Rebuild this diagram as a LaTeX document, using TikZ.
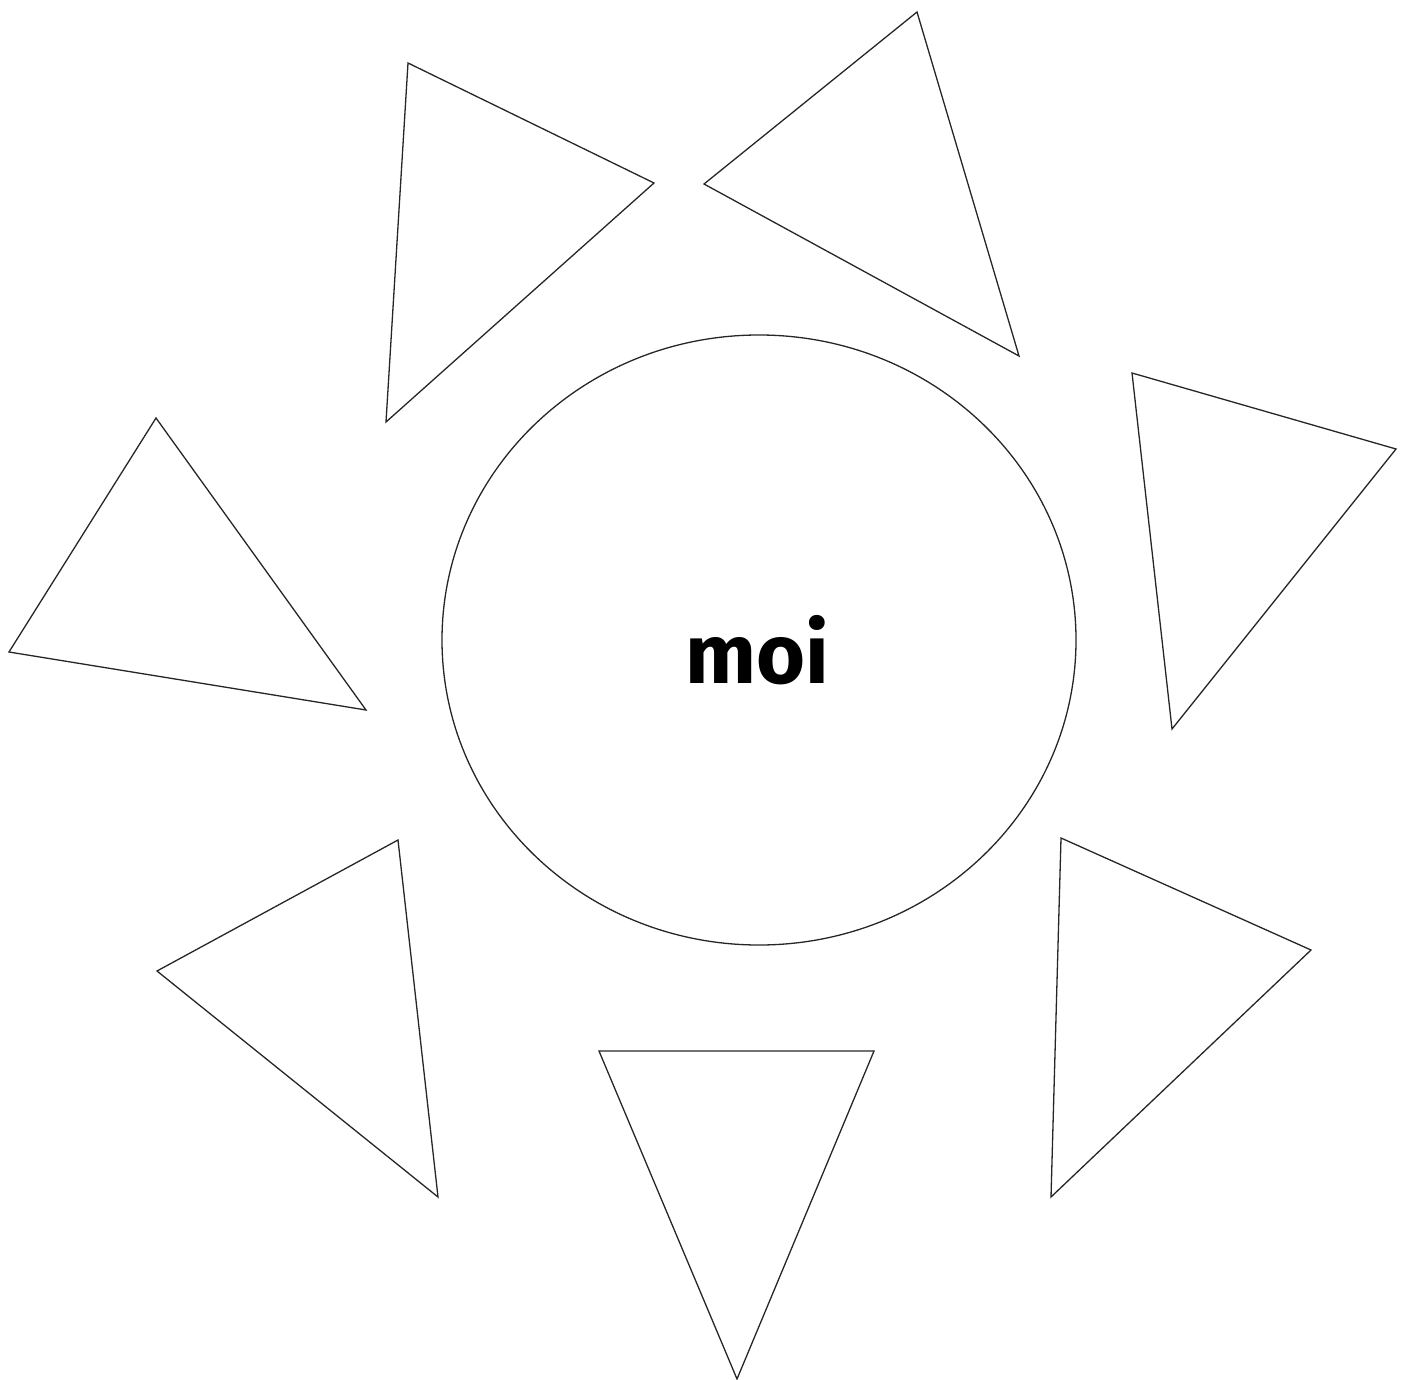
\documentclass[tikz,border=0pt]{standalone}
\usepackage{fontspec}
\newfontfamily\moifont{Fira Sans}
\begin{document}
\begin{tikzpicture}[x=0.5pt,y=-0.5pt,
  ray/.style={draw=black!85,line width=0.65pt,line join=miter},
  sun/.style={draw=black!85,line width=0.65pt}]
\useasboundingbox (0,0) rectangle (1407,1380);
\draw[sun] (759,640) ellipse [x radius=317, y radius=305];
\node (moi) at (757,650) {\moifont\bfseries\fontsize{42}{42}\selectfont moi};
\draw[ray] (408,63) -- (654,183) -- (386,422) -- cycle;
\draw[ray] (917,12) -- (704,184) -- (1019,356) -- cycle;
\draw[ray] (1132,373) -- (1396,449) -- (1172,729) -- cycle;
\draw[ray] (156,418) -- (9,652) -- (366,710) -- cycle;
\draw[ray] (398,840) -- (157,971) -- (438,1197) -- cycle;
\draw[ray] (599,1051) -- (874,1051) -- (737,1379) -- cycle;
\draw[ray] (1061,838) -- (1311,950) -- (1051,1197) -- cycle;
\end{tikzpicture}
\end{document}
